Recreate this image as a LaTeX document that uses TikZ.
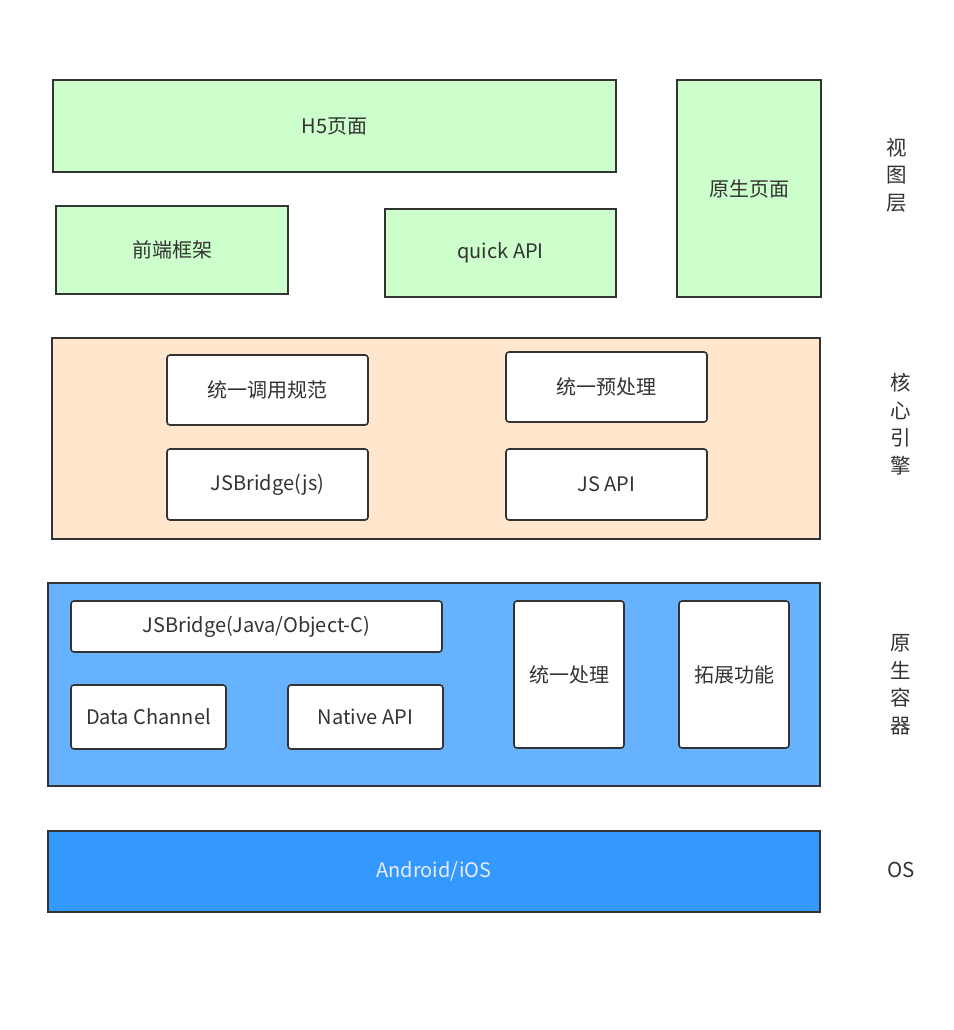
\documentclass[tikz,border=0pt]{standalone}
\usepackage{fontspec}
\setmainfont{Noto Sans CJK SC}
\begin{document}
\begin{tikzpicture}[x=1pt,y=-1pt,
  txt/.style={text=black!80, font=\fontsize{20}{23}\selectfont},
  gbox/.style={draw=black!80, line width=1.6pt, fill=gfill, txt, inner sep=0pt},
  wbox/.style={draw=black!80, line width=1.6pt, fill=white, rounded corners=3pt, txt, inner sep=0pt},
  layer/.style={draw=black!80, line width=1.6pt, inner sep=0pt},
  side/.style={txt, align=center, font=\fontsize{20.5}{27.5}\selectfont}
]
\definecolor{gfill}{HTML}{CCFFCC}
\definecolor{pfill}{HTML}{FFE6CC}
\definecolor{bfill}{HTML}{66B2FF}
\definecolor{osfill}{HTML}{3399FF}
\useasboundingbox (0,0) rectangle (953,1030);
\fill[white] (0,0) rectangle (953,1030);
% view layer
\node[gbox, minimum width=563pt, minimum height=92pt] (h5) at (334.5,126) {\raisebox{-1.5pt}{H5页面}};
\node[gbox, minimum width=232pt, minimum height=88pt] (fe) at (172,250) {\raisebox{-1.5pt}{前端框架}};
\node[gbox, minimum width=231pt, minimum height=88pt] (quick) at (500.5,253) {\raisebox{-1.5pt}{quick API}};
\node[gbox, minimum width=144pt, minimum height=217pt] (native) at (749,188.5) {\raisebox{-1.5pt}{原生页面}};
\node[side] (lview) at (897,175) {视\\图\\层};
% core engine
\node[layer, fill=pfill, minimum width=768pt, minimum height=201pt] (core) at (436,438.5) {};
\node[wbox, minimum width=201pt, minimum height=70pt] (spec) at (267.5,390) {\raisebox{-1.5pt}{统一调用规范}};
\node[wbox, minimum width=201pt, minimum height=71pt] (jsb) at (267.5,484.5) {\raisebox{-1.5pt}{JSBridge(js)}};
\node[wbox, minimum width=201pt, minimum height=70pt] (pre) at (606.5,387) {\raisebox{-1.5pt}{统一预处理}};
\node[wbox, minimum width=201pt, minimum height=71pt] (jsapi) at (606.5,484.5) {\raisebox{-1.5pt}{JS API}};
\node[side] (lcore) at (901,424) {核\\心\\引\\擎};
% native container
\node[layer, fill=bfill, minimum width=772pt, minimum height=203pt] (cont) at (434,684.5) {};
\node[wbox, minimum width=371pt, minimum height=51pt] (jsbn) at (256.5,626.5) {\raisebox{-1.5pt}{JSBridge(Java/Object-C)}};
\node[wbox, minimum width=155pt, minimum height=64pt] (dc) at (148.5,717) {\raisebox{-1.5pt}{Data Channel}};
\node[wbox, minimum width=155pt, minimum height=64pt] (napi) at (365.5,717) {\raisebox{-1.5pt}{Native API}};
\node[wbox, minimum width=110pt, minimum height=147pt] (uni) at (569,674.5) {\raisebox{-1.5pt}{统一处理}};
\node[wbox, minimum width=110pt, minimum height=147pt] (ext) at (734,674.5) {\raisebox{-1.5pt}{拓展功能}};
\node[side] (lcont) at (901,685) {原\\生\\容\\器};
% OS
\node[layer, fill=osfill, minimum width=772pt, minimum height=81pt, font=\fontsize{20}{23}\selectfont, text=white!92!blue] (os) at (434,871.5) {\raisebox{-1.5pt}{Android/iOS}};
\node[side] (los) at (901,870) {OS};
\end{tikzpicture}
\end{document}
